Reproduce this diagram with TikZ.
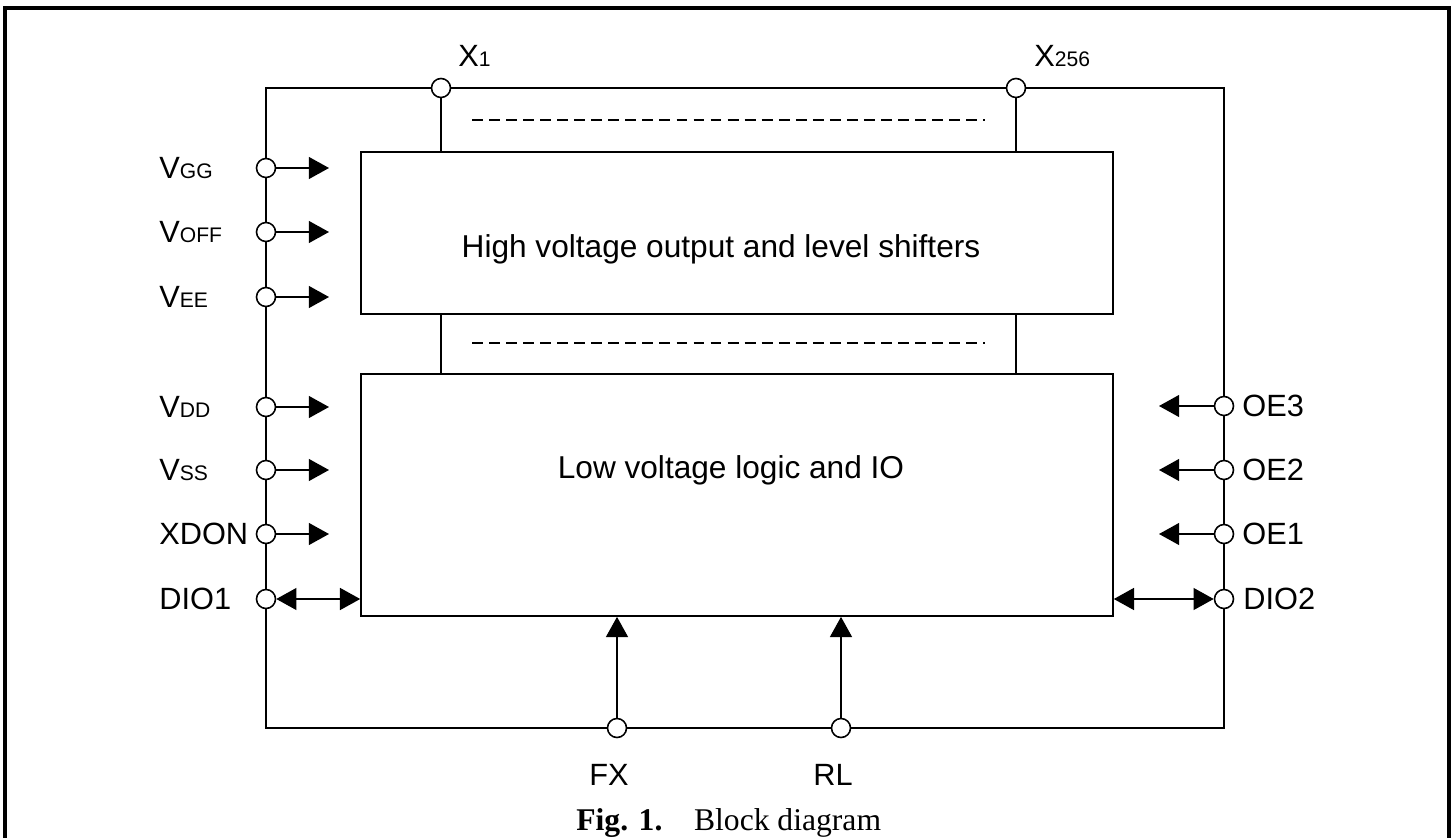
\documentclass[tikz,border=0pt]{standalone}
\usepackage{fontspec}
\setmainfont{Liberation Sans}
\newfontfamily\capfont{Liberation Serif}
\usetikzlibrary{arrows.meta, positioning}
\newcommand{\pinsub}[1]{{\fontsize{12}{13}\selectfont #1}}
\tikzstyle{block} = [rectangle, draw=black, line width=1pt, minimum width=15.04cm, inner sep=0pt]
\tikzstyle{pin} = [circle, draw=black, fill=white, line width=0.9pt, minimum size=0.38cm, inner sep=0pt]
\tikzstyle{pinlabel} = [font=\fontsize{17.5}{20}\selectfont, inner sep=0pt]
\tikzstyle{blocktext} = [font=\fontsize{18}{21}\selectfont, inner sep=0pt]
\tikzstyle{sig} = [line width=0.9pt, -{Triangle[length=11.5pt, width=12.5pt]}]
\tikzstyle{bisig} = [line width=0.9pt, {Triangle[length=11.5pt, width=12.5pt]}-{Triangle[length=11.5pt, width=12.5pt]}]
\tikzstyle{busdash} = [line width=1.6pt, dash pattern=on 6.2pt off 3.5pt]

\begin{document}
\begin{tikzpicture}[x=0.02cm, y=-0.02cm]

            \useasboundingbox (0,0) rectangle (1455,838);
            \draw [line width=1.8pt] (5,838) -- (5,8) -- (1449,8) -- (1449,838);

            % chip outline
            \draw [line width=1.3pt] (266,88) rectangle (1224,728);

            \node (hv) [block, minimum height=3.24cm] at (737,233) {};
            \node (lv) [block, minimum height=4.84cm] at (737,495) {};
            \node (hvtext) [blocktext] at (721,249) {High voltage output and level shifters};
            \node (lvtext) [blocktext] at (731,470) {Low voltage logic and IO};

            \draw [busdash] (472,120) -- (985,120);
            \draw [busdash] (472,343) -- (985,343);

            \coordinate (lefttip) at (329,0);
            \coordinate (righttip) at (1159,0);

            % pins
            \node (x1) [pin] at (441,88) {};
            \node (x256) [pin] at (1016,88) {};
            \node (vgg) [pin] at (266,168) {};
            \node (voff) [pin] at (266,232) {};
            \node (vee) [pin] at (266,297) {};
            \node (vdd) [pin] at (266,407) {};
            \node (vss) [pin] at (266,470) {};
            \node (xdon) [pin] at (266,534) {};
            \node (dio1) [pin] at (266,599) {};
            \node (oe3) [pin] at (1224,406) {};
            \node (oe2) [pin] at (1224,470) {};
            \node (oe1) [pin] at (1224,534) {};
            \node (dio2) [pin] at (1224,599) {};
            \node (fx) [pin] at (617,728) {};
            \node (rl) [pin] at (841,728) {};

            % pin labels
            \node (x1lbl) [pinlabel, anchor=west] at (458,56) {X\pinsub{1}};
            \node (x256lbl) [pinlabel, anchor=west] at (1034,56) {X\pinsub{256}};
            \node (vgglbl) [pinlabel, anchor=west] at (159,168) {V\pinsub{GG}};
            \node (vofflbl) [pinlabel, anchor=west] at (159,232) {V\pinsub{OFF}};
            \node (veelbl) [pinlabel, anchor=west] at (159,297) {V\pinsub{EE}};
            \node (vddlbl) [pinlabel, anchor=west] at (159,407) {V\pinsub{DD}};
            \node (vsslbl) [pinlabel, anchor=west] at (159,470) {V\pinsub{SS}};
            \node (xdonlbl) [pinlabel, anchor=west] at (159,534) {XDON};
            \node (dio1lbl) [pinlabel, anchor=west] at (159,599) {DIO1};
            \node (oe3lbl) [pinlabel, anchor=west] at (1242,406) {OE3};
            \node (oe2lbl) [pinlabel, anchor=west] at (1242,470) {OE2};
            \node (oe1lbl) [pinlabel, anchor=west] at (1242,534) {OE1};
            \node (dio2lbl) [pinlabel, anchor=west] at (1243,599) {DIO2};
            \node (fxlbl) [pinlabel] at (609,775) {FX};
            \node (rllbl) [pinlabel] at (833,775) {RL};

            \draw [line width=0.9pt] (x1) -- (x1 |- hv.north);
            \draw [line width=0.9pt] (x256) -- (x256 |- hv.north);
            \draw [line width=0.9pt] (hv.south -| x1) -- (lv.north -| x1);
            \draw [line width=0.9pt] (hv.south -| x256) -- (lv.north -| x256);

            \draw [sig] (vgg) -- (vgg -| lefttip);
            \draw [sig] (voff) -- (voff -| lefttip);
            \draw [sig] (vee) -- (vee -| lefttip);
            \draw [sig] (vdd) -- (vdd -| lefttip);
            \draw [sig] (vss) -- (vss -| lefttip);
            \draw [sig] (xdon) -- (xdon -| lefttip);
            \draw [bisig] (dio1) -- (dio1 -| lv.west);

            \draw [sig] (oe3) -- (oe3 -| righttip);
            \draw [sig] (oe2) -- (oe2 -| righttip);
            \draw [sig] (oe1) -- (oe1 -| righttip);
            \draw [bisig] (dio2 -| lv.east) -- (dio2);

            \draw [sig] (fx) -- (fx |- lv.south);
            \draw [sig] (rl) -- (rl |- lv.south);

            \node (caption) [anchor=base west, inner sep=0pt, font=\capfont\fontsize{18}{21}\selectfont] at (576,830) {\textbf{Fig. 1.}\quad Block diagram};

        \end{tikzpicture}
\end{document}
